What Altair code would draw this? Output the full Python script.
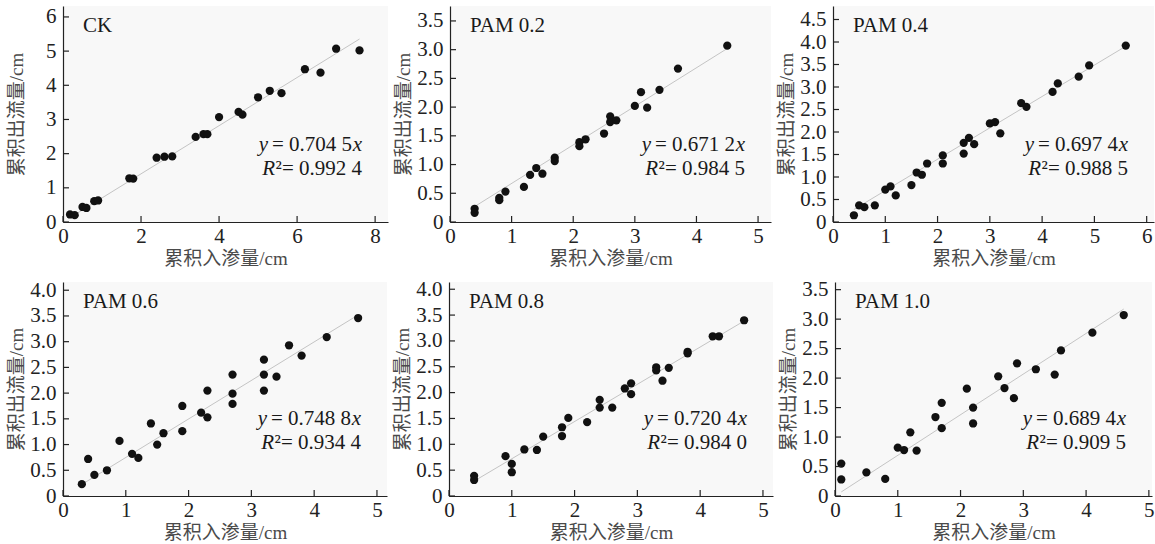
import altair as alt
import pandas as pd

# ---------------- data ----------------
panel_names = ["CK", "PAM 0.2", "PAM 0.4", "PAM 0.6", "PAM 0.8", "PAM 1.0"]
slopes = [0.7045, 0.6712, 0.6974, 0.7488, 0.7204, 0.6894]
slope_texts = ["0.704 5", "0.671 2", "0.697 4", "0.748 8", "0.720 4", "0.689 4"]
r2_texts = ["0.992 4", "0.984 5", "0.988 5", "0.934 4", "0.984 0", "0.909 5"]

ck_x = [0.18, 0.3, 0.5, 0.6, 0.8, 0.9, 1.7, 1.8, 2.4, 2.6, 2.8, 3.4, 3.6, 3.7, 4.0, 4.5, 4.6, 5.0, 5.3, 5.6, 6.2, 6.6, 7.0, 7.6]
ck_y = [0.22, 0.2, 0.44, 0.41, 0.61, 0.63, 1.28, 1.27, 1.88, 1.91, 1.92, 2.49, 2.57, 2.57, 3.07, 3.22, 3.14, 3.65, 3.84, 3.77, 4.47, 4.37, 5.07, 5.02]

p02_x = [0.4, 0.4, 0.8, 0.8, 0.9, 1.2, 1.3, 1.4, 1.5, 1.7, 1.7, 2.1, 2.1, 2.2, 2.5, 2.6, 2.6, 2.7, 3.0, 3.1, 3.2, 3.4, 3.7, 4.5]
p02_y = [0.23, 0.16, 0.42, 0.38, 0.53, 0.61, 0.82, 0.94, 0.84, 1.12, 1.06, 1.39, 1.32, 1.44, 1.54, 1.84, 1.74, 1.77, 2.02, 2.26, 1.99, 2.30, 2.67, 3.07]

p04_x = [0.4, 0.5, 0.6, 0.8, 1.0, 1.1, 1.2, 1.5, 1.6, 1.7, 1.8, 2.1, 2.1, 2.5, 2.5, 2.6, 2.7, 3.0, 3.1, 3.2, 3.6, 3.7, 4.2, 4.3, 4.7, 4.9, 5.6]
p04_y = [0.15, 0.37, 0.33, 0.37, 0.72, 0.79, 0.59, 0.82, 1.10, 1.05, 1.30, 1.30, 1.48, 1.52, 1.76, 1.87, 1.73, 2.19, 2.22, 1.97, 2.64, 2.56, 2.89, 3.08, 3.23, 3.48, 3.92]

p06_x = [0.3, 0.4, 0.5, 0.7, 0.9, 1.1, 1.2, 1.4, 1.5, 1.6, 1.9, 1.9, 2.2, 2.3, 2.3, 2.7, 2.7, 2.7, 3.2, 3.2, 3.2, 3.4, 3.6, 3.8, 4.2, 4.7]
p06_y = [0.23, 0.72, 0.41, 0.50, 1.07, 0.82, 0.74, 1.41, 1.00, 1.22, 1.75, 1.26, 1.62, 2.05, 1.53, 2.36, 1.99, 1.79, 2.65, 2.36, 2.05, 2.32, 2.93, 2.73, 3.09, 3.46]

p08_x = [0.4, 0.4, 0.9, 1.0, 1.0, 1.2, 1.4, 1.5, 1.8, 1.8, 1.9, 2.2, 2.4, 2.4, 2.6, 2.8, 2.9, 2.9, 3.3, 3.3, 3.4, 3.5, 3.8, 3.8, 4.2, 4.3, 4.7]
p08_y = [0.39, 0.31, 0.77, 0.62, 0.46, 0.90, 0.89, 1.15, 1.33, 1.16, 1.51, 1.43, 1.86, 1.71, 1.71, 2.08, 2.18, 1.97, 2.49, 2.43, 2.23, 2.48, 2.79, 2.76, 3.09, 3.09, 3.40]

p10_x = [0.1, 0.1, 0.5, 0.8, 1.0, 1.1, 1.2, 1.3, 1.6, 1.7, 1.7, 2.1, 2.2, 2.2, 2.6, 2.7, 2.85, 2.9, 3.2, 3.5, 3.6, 4.1, 4.6]
p10_y = [0.55, 0.28, 0.40, 0.29, 0.82, 0.78, 1.08, 0.77, 1.34, 1.58, 1.15, 1.82, 1.50, 1.23, 2.03, 1.83, 1.66, 2.25, 2.15, 2.06, 2.47, 2.77, 3.07]

xs_all = [ck_x, p02_x, p04_x, p06_x, p08_x, p10_x]
ys_all = [ck_y, p02_y, p04_y, p06_y, p08_y, p10_y]

x_ticks = [[0, 2, 4, 6, 8], [0, 1, 2, 3, 4, 5], [0, 1, 2, 3, 4, 5, 6],
           [0, 1, 2, 3, 4, 5], [0, 1, 2, 3, 4, 5], [0, 1, 2, 3, 4, 5]]
y_ticks = [[0, 1, 2, 3, 4, 5, 6],
           [0, 0.5, 1.0, 1.5, 2.0, 2.5, 3.0, 3.5],
           [0, 0.5, 1.0, 1.5, 2.0, 2.5, 3.0, 3.5, 4.0, 4.5],
           [0, 0.5, 1.0, 1.5, 2.0, 2.5, 3.0, 3.5, 4.0],
           [0, 0.5, 1.0, 1.5, 2.0, 2.5, 3.0, 3.5, 4.0],
           [0, 0.5, 1.0, 1.5, 2.0, 2.5, 3.0, 3.5]]
x_max = [8.33, 5.21, 6.14, 5.16, 5.16, 5.05]
y_max = [6.32, 3.76, 4.80, 4.16, 4.14, 3.63]

x_title = "累积入渗量/cm"
y_title = "累积出流量/cm"

# ---------------- layout / style ----------------
widths = [325, 321, 321, 324, 324, 317]
heights = [216, 216, 216, 214, 214, 214]
SERIF = "Liberation Serif"
EQ_SIZE = 21
TICK_LEN = 6


def panel(i):
    W, H = widths[i], heights[i]
    xs, ys = xs_all[i], ys_all[i]
    k = slopes[i]
    pts = pd.DataFrame({"x": xs, "y": ys})
    xmin, xmax = min(xs), max(xs)
    fit = pd.DataFrame({"x": [xmin, xmax], "y": [k * xmin, k * xmax]})
    xt = pd.DataFrame({"x": x_ticks[i]})
    yt = pd.DataFrame({"y": y_ticks[i]})

    if i == 0:
        ylab = "format(datum.value, 'd')"
    else:
        ylab = "datum.value == 0 ? '0' : format(datum.value, '.1f')"

    xe = alt.X("x:Q", scale=alt.Scale(domain=[0, x_max[i]], nice=False, zero=True),
               axis=alt.Axis(values=x_ticks[i], format="d", title=x_title))
    ye = alt.Y("y:Q", scale=alt.Scale(domain=[0, y_max[i]], nice=False, zero=True),
               axis=alt.Axis(values=y_ticks[i], labelExpr=ylab, title=y_title))

    line = alt.Chart(fit).mark_line(color="#c4c4c4", strokeWidth=1).encode(x=xe, y=ye)
    dots = alt.Chart(pts).mark_circle(color="#111111", opacity=1, size=68).encode(x=xe, y=ye)
    xtick = alt.Chart(xt).mark_rule(color="#222222", strokeWidth=1.2).encode(
        x=xe, y=alt.value(H), y2=alt.value(H - TICK_LEN))
    ytick = alt.Chart(yt).mark_rule(color="#222222", strokeWidth=1.2).encode(
        y=ye, x=alt.value(0), x2=alt.value(TICK_LEN))

    X = W - 26
    y1 = H - 77
    y2 = H - 53

    def txt(s, x, y, italic=False, size=EQ_SIZE):
        return alt.Chart(pd.DataFrame({"t": [s]})).mark_text(
            font=SERIF, fontSize=size, fontStyle="italic" if italic else "normal",
            align="right", baseline="middle", color="#1a1a1a"
        ).encode(x=alt.value(x), y=alt.value(y), text="t:N")

    eq = [
        txt("x", X, y1, italic=True),
        txt("= " + slope_texts[i], X - 10, y1),
        txt("y", X - 94, y1, italic=True),
        txt("²= " + r2_texts[i], X, y2),
        txt("R", X - 87, y2, italic=True),
    ]
    name = alt.Chart(pd.DataFrame({"t": [panel_names[i]]})).mark_text(
        font=SERIF, fontSize=21, align="left", baseline="middle", color="#1a1a1a"
    ).encode(x=alt.value(20), y=alt.value(20), text="t:N")

    return alt.layer(line, dots, xtick, ytick, name, *eq).properties(width=W, height=H)


row1 = alt.hconcat(panel(0), panel(1), panel(2), spacing=6)
row2 = alt.hconcat(panel(3), panel(4), panel(5), spacing=6)

chart = alt.vconcat(row1, row2, spacing=10).properties(
    padding={"left": 7, "top": 5, "right": 0, "bottom": 0},
    background="white",
).configure_view(stroke=None, fill="#f8f8f8").configure_axis(
    labelFont=SERIF, labelFontSize=21, labelColor="#222222",
    titleFont="Liberation Serif, Noto Sans CJK SC", titleFontSize=19,
    titleFontWeight="normal", titleColor="#4a4a4a",
    domainColor="#222222", domainWidth=1.2, ticks=False, tickSize=0, grid=False,
).configure_axisY(
    minExtent=33, maxExtent=33, labelPadding=7, titlePadding=4,
).configure_axisX(
    labelPadding=3, titlePadding=3, labelFlush=False,
)

chart.save("out.html", embed_options={"renderer": "svg", "actions": False})
